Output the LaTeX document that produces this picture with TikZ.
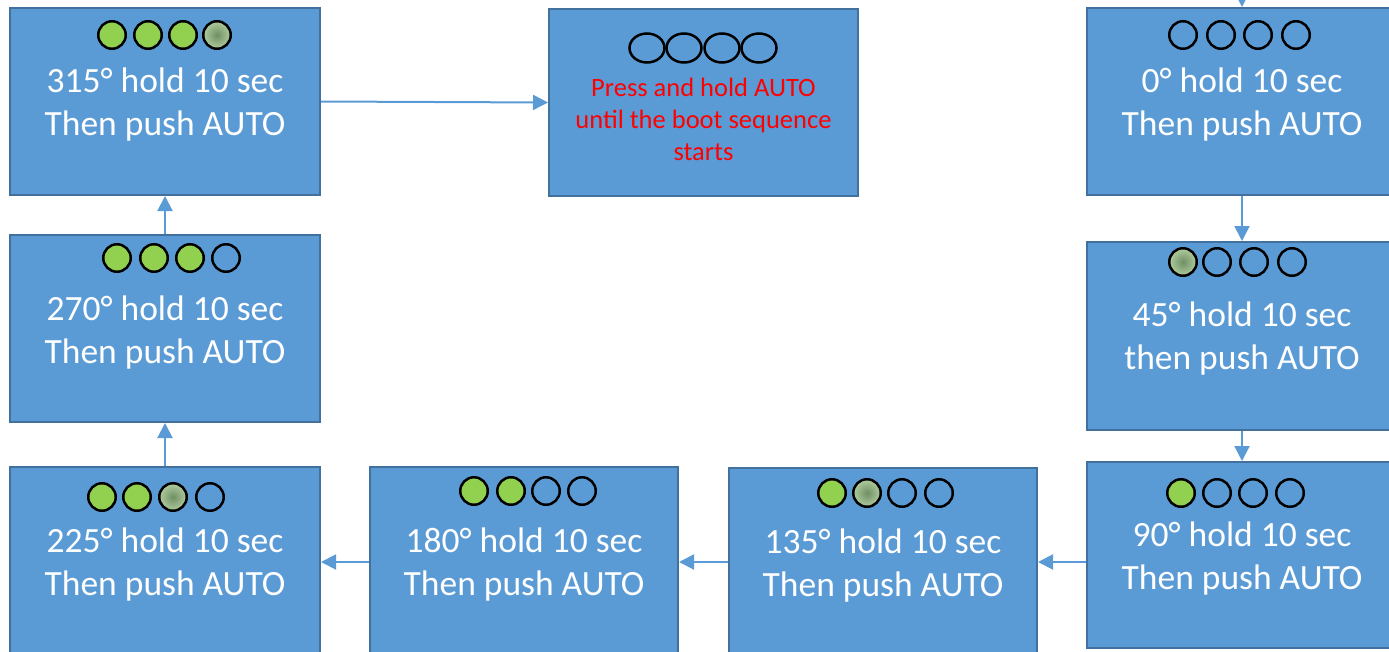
\documentclass[tikz,border=0pt]{standalone}
\usepackage{fontspec}
\setmainfont{Carlito}
\usetikzlibrary{arrows.meta,shapes.geometric}
\definecolor{boxfill}{HTML}{5B9BD5}
\definecolor{boxline}{HTML}{41719C}
\definecolor{ledgreen}{HTML}{92D050}
\definecolor{halfin}{HTML}{6F8F63}
\definecolor{halfout}{HTML}{B0CC9E}
\begin{document}
\begin{tikzpicture}[x=1pt,y=-1pt,
  box/.style={draw=boxline,fill=boxfill,line width=2,rectangle,inner sep=0},
  lbl/.style={text=white,align=center,anchor=base,inner sep=0,
    font=\fontsize{35.5}{43}\selectfont},
  redlbl/.style={text=red,align=center,anchor=base,inner sep=0,
    font=\fontsize{26.5}{32}\selectfont},
  led/.style={draw=black,circle,line width=2.5,minimum size=27.5,inner sep=0},
  ledon/.style={led,fill=ledgreen},
  ledhalf/.style={led,inner color=halfin,outer color=halfout},
  ledoff/.style={led},
  oval/.style={draw=black,ellipse,line width=2.5,minimum width=35,minimum height=29,inner sep=0},
  arr/.style={draw=boxfill,line width=2,-{Triangle[length=15,width=15]}}]
\useasboundingbox (0,0) rectangle (1389,651);
\clip (0,0) rectangle (1389,651);
% boxes
\node[box,minimum width=310,minimum height=187] (b315) at (165,101.5) {};
\node[box,minimum width=309,minimum height=187] (bpress) at (703.5,102.5) {};
\node[box,minimum width=310,minimum height=187] (b0) at (1242,101.5) {};
\node[box,minimum width=310,minimum height=188] (b45) at (1242,336) {};
\node[box,minimum width=310,minimum height=186] (b90) at (1242,555) {};
\node[box,minimum width=308,minimum height=212] (b135) at (883,574) {};
\node[box,minimum width=308,minimum height=213] (b180) at (524,573.5) {};
\node[box,minimum width=310,minimum height=213] (b225) at (165,573.5) {};
\node[box,minimum width=310,minimum height=187] (b270) at (165,328.5) {};
% texts (anchor = baseline of the last line)
\node[lbl] (t315) at (165,135) {315° hold 10 sec\\Then push AUTO};
\node[redlbl] (tpress) at (703.5,160) {Press and hold AUTO\\until the boot sequence\\starts};
\node[lbl] (t0) at (1242,135) {0° hold 10 sec\\Then push AUTO};
\node[lbl] (t45) at (1242,369) {45° hold 10 sec\\then push AUTO};
\node[lbl] (t90) at (1242,589) {90° hold 10 sec\\Then push AUTO};
\node[lbl] (t135) at (883,596) {135° hold 10 sec\\Then push AUTO};
\node[lbl] (t180) at (524,595) {180° hold 10 sec\\Then push AUTO};
\node[lbl] (t225) at (165,595) {225° hold 10 sec\\Then push AUTO};
\node[lbl] (t270) at (165,363) {270° hold 10 sec\\Then push AUTO};
% leds
\node[ledon] (l315a) at (112,35) {};
\node[ledon] (l315b) at (148,35) {};
\node[ledon] (l315c) at (183,35) {};
\node[ledhalf] (l315d) at (217,35) {};
\node[oval] (lpa) at (647,48) {};
\node[oval] (lpb) at (684,48) {};
\node[oval] (lpc) at (722,48) {};
\node[oval] (lpd) at (759,48) {};
\node[ledoff] (l0a) at (1183,35) {};
\node[ledoff] (l0b) at (1221,35) {};
\node[ledoff] (l0c) at (1258,35) {};
\node[ledoff] (l0d) at (1296,35) {};
\node[ledhalf] (l45a) at (1183,262) {};
\node[ledoff] (l45b) at (1217,262) {};
\node[ledoff] (l45c) at (1254,262) {};
\node[ledoff] (l45d) at (1292,262) {};
\node[ledon] (l90a) at (1181,493) {};
\node[ledoff] (l90b) at (1217,493) {};
\node[ledoff] (l90c) at (1253,493) {};
\node[ledoff] (l90d) at (1290,493) {};
\node[ledon] (l135a) at (832,493) {};
\node[ledhalf] (l135b) at (867,493) {};
\node[ledoff] (l135c) at (902,493) {};
\node[ledoff] (l135d) at (939,493) {};
\node[ledon] (l180a) at (474,491) {};
\node[ledon] (l180b) at (511,491) {};
\node[ledoff] (l180c) at (546,491) {};
\node[ledoff] (l180d) at (582,491) {};
\node[ledon] (l225a) at (102,497) {};
\node[ledon] (l225b) at (137,497) {};
\node[ledhalf] (l225c) at (173,497) {};
\node[ledoff] (l225d) at (210,497) {};
\node[ledon] (l270a) at (117,258) {};
\node[ledon] (l270b) at (154,258) {};
\node[ledon] (l270c) at (190,258) {};
\node[ledoff] (l270d) at (226,258) {};
% connectors
\coordinate (top0) at (1242,-2);
\coordinate (row) at (0,562);
\draw[arr] (top0) -- (b0.north);
\draw[arr] (b0.south) -- (b45.north);
\draw[arr] (b45.south) -- (b90.north);
\draw[arr] (b90.west |- row) -- (b135.east |- row);
\draw[arr] (b135.west |- row) -- (b180.east |- row);
\draw[arr] (b180.west |- row) -- (b225.east |- row);
\draw[arr] (b225.north) -- (b270.south);
\draw[arr] (b270.north) -- (b315.south);
\draw[arr] (b315.east) -- (bpress.west);
\end{tikzpicture}
\end{document}
